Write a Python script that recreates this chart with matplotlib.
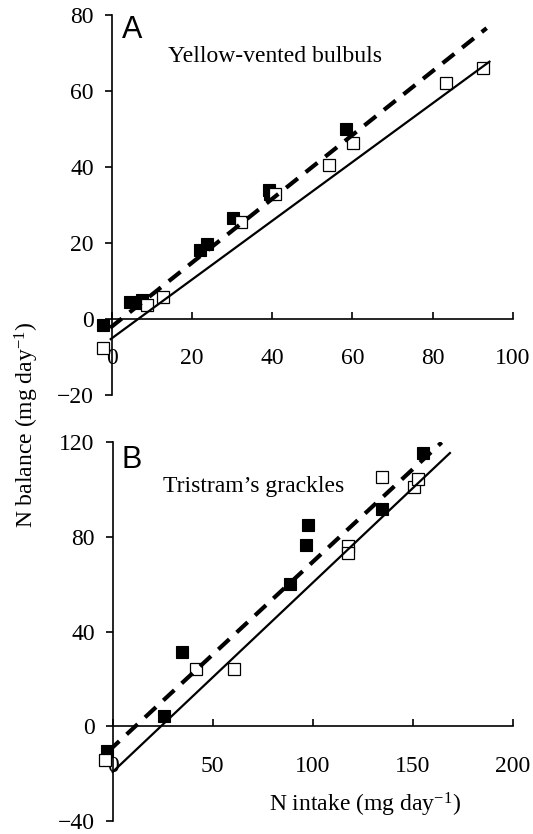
import matplotlib
matplotlib.use("Agg")
import matplotlib.pyplot as plt
import numpy as np

plt.rcParams['font.family'] = ['Liberation Serif', 'DejaVu Serif']
plt.rcParams['mathtext.fontset'] = 'custom'
plt.rcParams['mathtext.rm'] = 'Liberation Serif'
plt.rcParams['mathtext.it'] = 'Liberation Serif:italic'

# panel A - yellow-vented bulbuls
a_filled_x = [-2.1, 4.6, 6.2, 7.6, 22.0, 23.7, 30.3, 39.2, 39.5, 58.4]
a_filled_y = [-1.5, 4.4, 4.3, 5.1, 18.2, 19.8, 26.5, 34.0, 33.0, 50.0]
a_open_x = [-2.1, 8.9, 12.7, 32.2, 40.6, 54.2, 60.1, 83.4, 92.5]
a_open_y = [-7.7, 3.6, 5.8, 25.5, 32.8, 40.6, 46.2, 62.0, 66.0]
a_dash_fit = (0.84, -2.0, -0.4, 93.5)      # slope, intercept, x from, x to
a_solid_fit = (0.773, -5.1, -0.25, 94.2)
a_xticks = [0, 20, 40, 60, 80, 100]
a_yticks = [-20, 0, 20, 40, 60, 80]

# panel B - Tristram's grackles
b_filled_x = [-3.0, 25.7, 34.5, 88.7, 96.5, 97.8, 134.5, 155.0]
b_filled_y = [-10.5, 4.2, 31.4, 60.2, 76.4, 85.1, 91.9, 115.3]
b_open_x = [-3.8, 41.7, 60.8, 117.5, 117.5, 134.5, 150.6, 152.8]
b_open_y = [-14.0, 24.3, 24.3, 76.1, 73.3, 105.2, 101.2, 104.4]
b_dash_fit = (0.782, -8.8, -2.2, 164.5)
b_solid_fit = (0.798, -19.2, 0.0, 168.6)
b_xticks = [0, 50, 100, 150, 200]
b_yticks = [-40, 0, 40, 80, 120]

W, H = 533, 834
fig = plt.figure(figsize=(W / 100, H / 100), dpi=100)

def px_axes(left, top, right, bottom):
    return fig.add_axes([left / W, 1 - bottom / H, (right - left) / W, (bottom - top) / H])

def draw_panel(ax, fx, fy, ox, oy, dash_fit, solid_fit, xticks, yticks, xlim, ylim):
    ax.plot(fx, fy, 's', color='black', markersize=9, markeredgewidth=0.8, clip_on=False, zorder=3)
    ax.plot(ox, oy, 's', markerfacecolor='white', markeredgecolor='black', markersize=9,
            markeredgewidth=0.9, clip_on=False, zorder=3)
    for fit, style in [(dash_fit, 'dash'), (solid_fit, 'solid')]:
        slope, icpt, x0, x1 = fit
        xs = np.array([x0, x1])
        if style == 'dash':
            ax.plot(xs, slope * xs + icpt, color='black', lw=3.0, dashes=(3.6, 2.4), zorder=4)
        else:
            ax.plot(xs, slope * xs + icpt, color='black', lw=1.6, zorder=4)
    ax.set_xlim(xlim)
    ax.set_ylim(ylim)
    ax.spines['top'].set_visible(False)
    ax.spines['right'].set_visible(False)
    ax.spines['left'].set_position(('data', 0))
    ax.spines['bottom'].set_position(('data', 0))
    ax.spines['left'].set_bounds(yticks[0], yticks[-1])
    ax.spines['bottom'].set_bounds(xticks[0], xticks[-1])
    for s in ['left', 'bottom']:
        ax.spines[s].set_linewidth(1.2)
    ax.set_xticks(xticks)
    ax.set_yticks(yticks)
    ax.tick_params(axis='x', direction='in', length=5, width=1.2, pad=21, labelsize=17)
    ax.tick_params(axis='y', direction='out', length=5, width=1.2, pad=8, labelsize=17)
    ax.patch.set_visible(False)

ax_a = px_axes(91.65, 15, 512.7, 395)
draw_panel(ax_a, a_filled_x, a_filled_y, a_open_x, a_open_y, a_dash_fit, a_solid_fit,
           a_xticks, a_yticks, (-5, 100), (-20, 80))

ax_b = px_axes(92.7, 442.0, 512.7, 821.2)
draw_panel(ax_b, b_filled_x, b_filled_y, b_open_x, b_open_y, b_dash_fit, b_solid_fit,
           b_xticks, b_yticks, (-10, 200), (-40, 120))

# panel letters and titles
fig.text(122 / W, 1 - 15 / H, 'A', family='Liberation Sans', fontsize=22, va='top', ha='left')
fig.text(122 / W, 1 - 445 / H, 'B', family='Liberation Sans', fontsize=22, va='top', ha='left')
fig.text(168 / W, 1 - 57 / H, 'Yellow-vented bulbuls', fontsize=17, va='center', ha='left')
fig.text(163 / W, 1 - 486 / H, 'Tristram\u2019s grackles', fontsize=17, va='center', ha='left')

fig.text(27 / W, 1 - 425 / H, 'N balance (mg day$^{-1}$)', fontsize=17, rotation=90,
         va='center', ha='center')
fig.text(365 / W, 1 - 805 / H, 'N intake (mg day$^{-1}$)', fontsize=17, va='center', ha='center')

fig.savefig('out.png', dpi=100)
